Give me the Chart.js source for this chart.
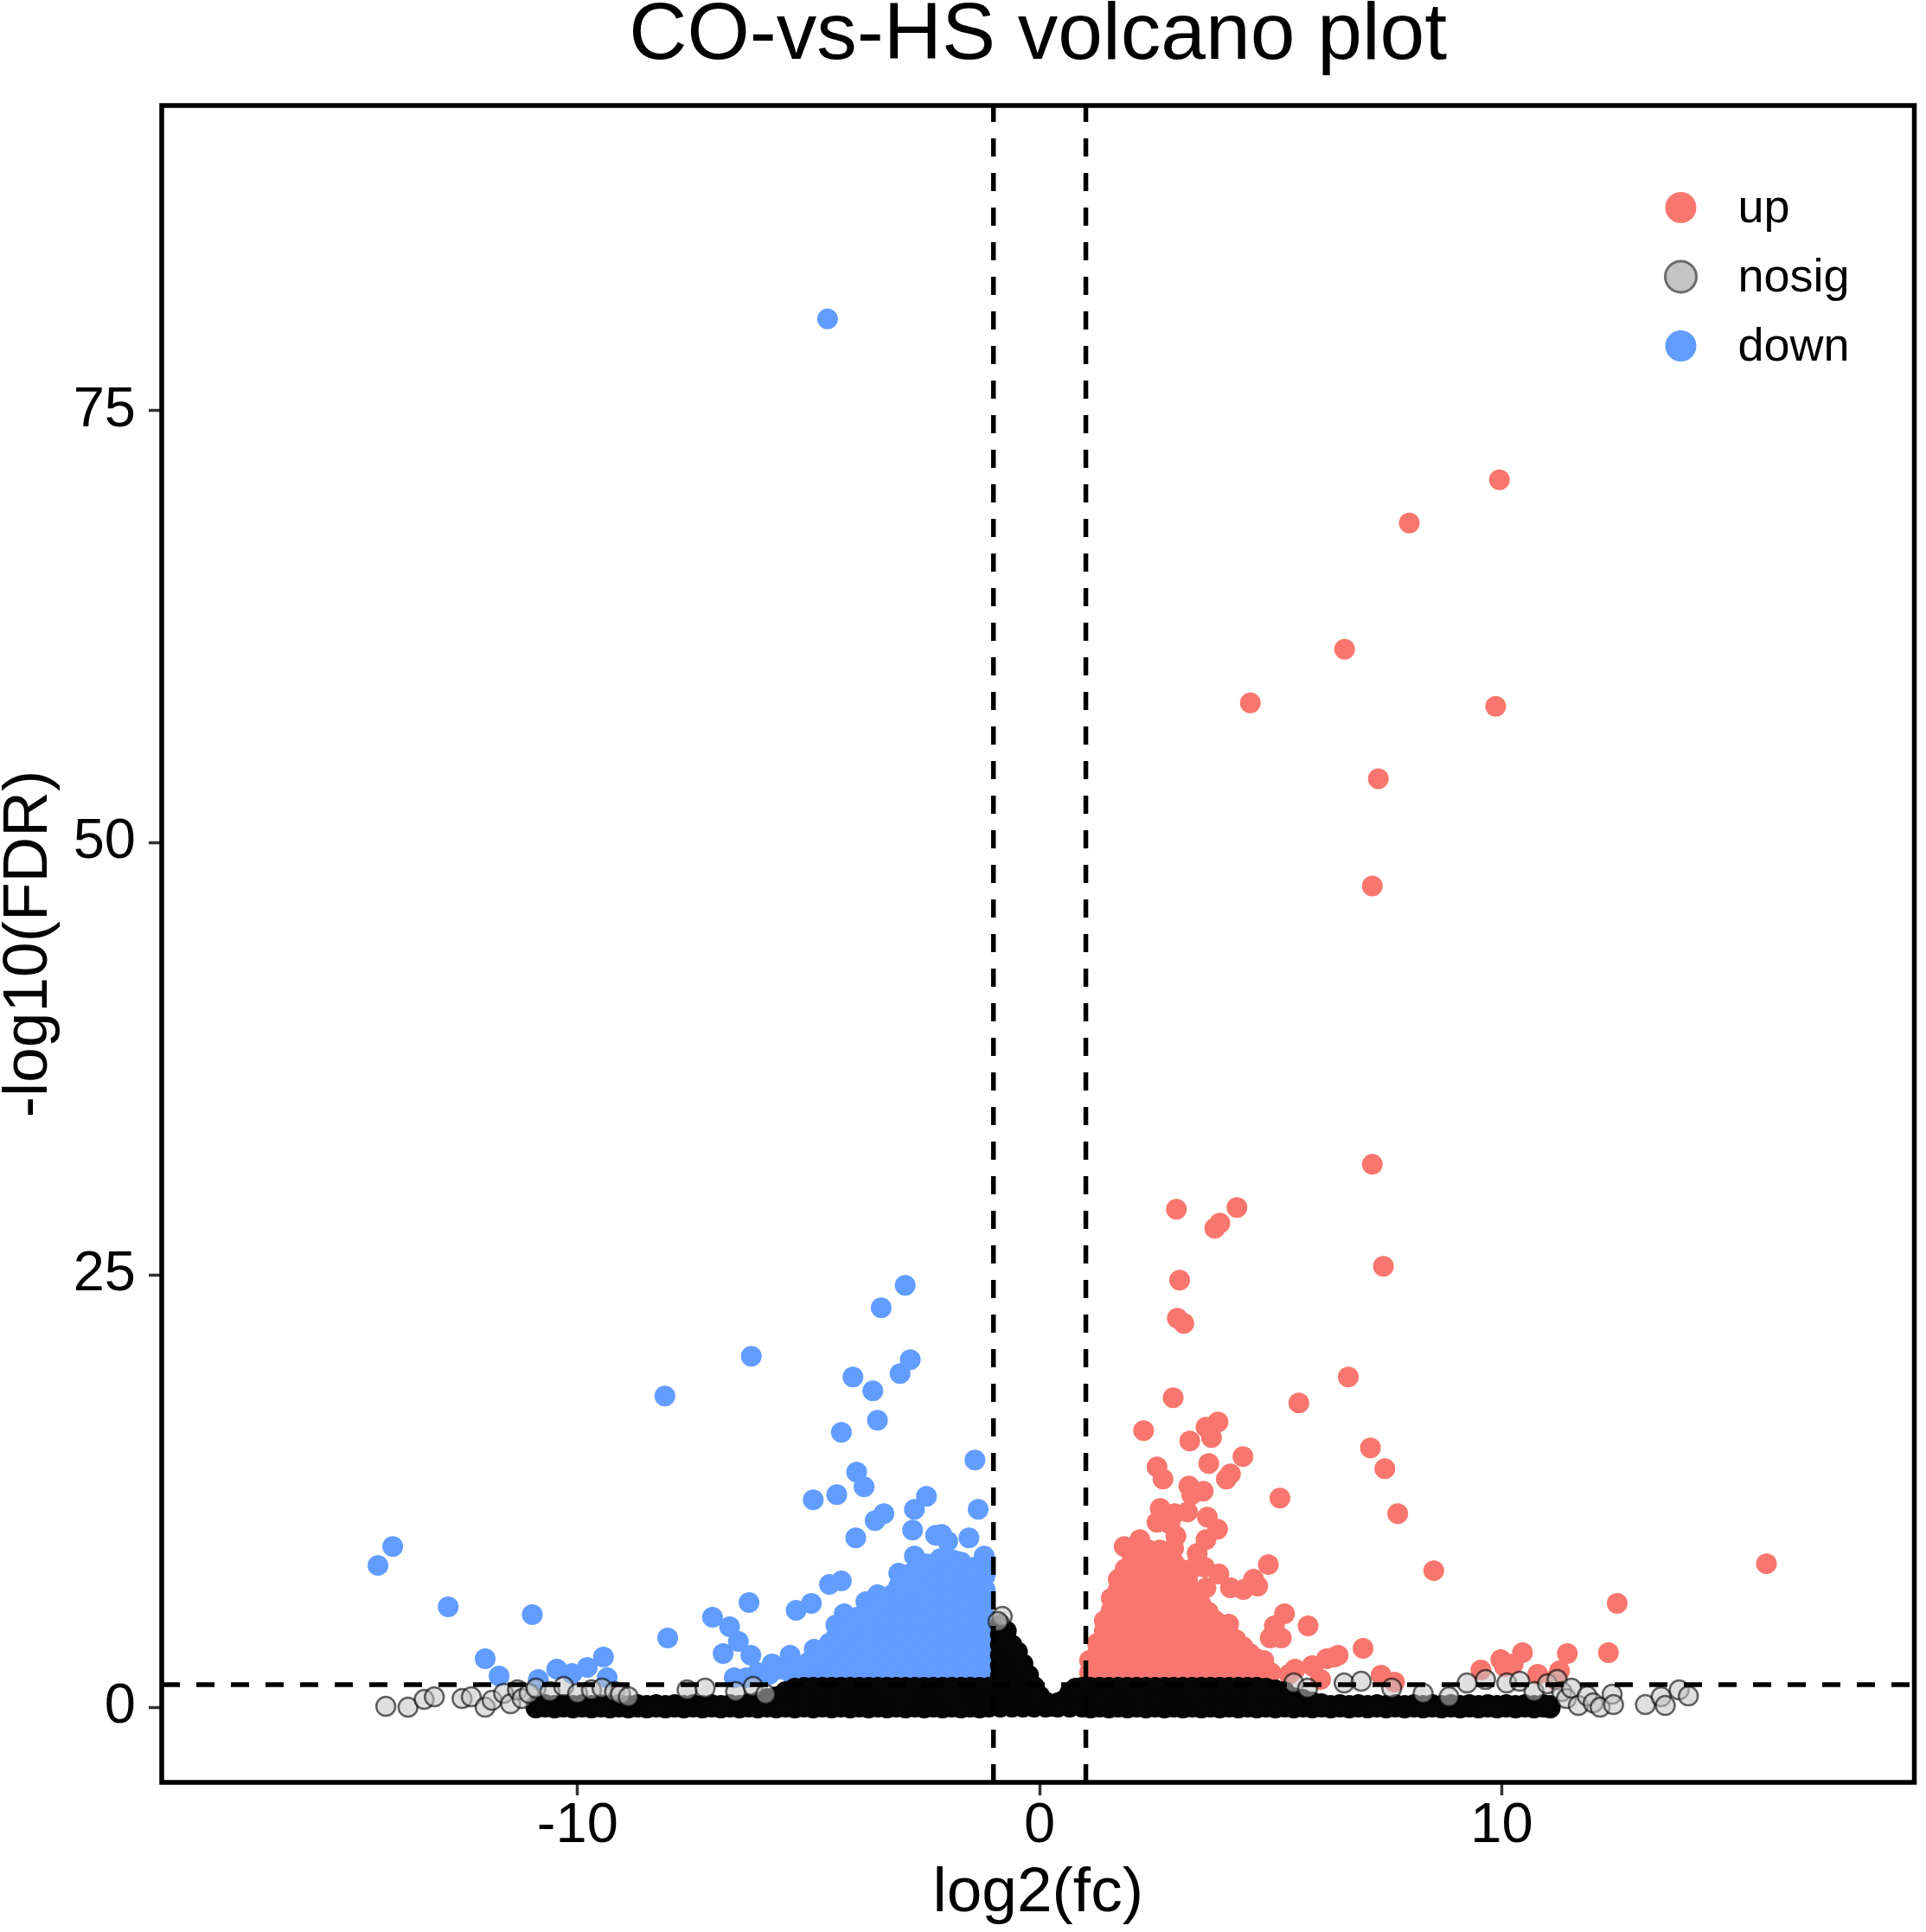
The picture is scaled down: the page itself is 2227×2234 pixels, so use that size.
<!DOCTYPE html>
<html>
<head>
<meta charset="utf-8">
<title>CO-vs-HS volcano plot</title>
<script src="https://cdn.jsdelivr.net/npm/chart.js@4.4.1/dist/chart.umd.min.js"></script>
<style>
  html, body { margin: 0; padding: 0; background: #ffffff; }
  #volcano { display: block; width: 2227px; height: 2234px; }
</style>
</head>
<body>
<canvas id="volcano" width="2227" height="2234"></canvas>
<script>
// axes
const xTicks = [-10, 0, 10];
const yTicks = [0, 25, 50, 75];
const xRange = [-19, 18.93];
const yRange = [-4.35, 92.65];
const fcCutoff = 1;
const fdrCutoff = 1.3;
const legendLabels = ['up', 'nosig', 'down'];

// up-regulated, isolated points [log2fc, -log10 fdr]
const upOutliers = [
  [9.95, 71.0], [8.0, 68.5], [6.6, 61.2], [4.56, 58.1], [9.87, 57.9], [7.33, 53.7], [7.2, 47.5], [7.2, 31.4],
  [2.96, 28.8], [4.27, 28.9], [3.79, 27.7], [3.9, 28.0], [7.44, 25.5], [3.03, 24.7], [2.98, 22.5], [3.12, 22.2],
  [6.68, 19.1], [2.89, 17.9], [5.61, 17.6], [2.25, 16.0], [3.25, 15.4], [3.6, 16.2], [3.86, 16.5], [3.72, 15.6],
  [7.16, 15.0], [3.66, 14.1], [4.4, 14.5], [7.47, 13.8], [2.54, 13.9], [2.67, 13.2], [4.04, 13.2], [4.13, 13.5],
  [3.23, 12.8], [3.54, 12.5], [3.29, 12.3], [5.2, 12.1], [7.75, 11.2], [2.61, 11.5], [2.92, 11.2], [3.2, 11.3],
  [2.54, 10.7], [2.82, 10.6], [2.95, 9.9], [3.63, 11.0], [3.85, 10.3], [3.6, 9.7], [1.83, 9.3], [2.17, 9.7],
  [2.36, 9.1], [3.41, 8.9], [3.35, 8.1], [3.57, 8.1], [4.95, 8.25], [8.53, 7.9], [15.73, 8.3], [12.5, 6.0],
  [3.88, 7.7], [4.13, 6.9], [4.41, 6.8], [4.63, 7.4], [4.72, 7.0], [3.6, 6.9],
  [5.3, 5.4], [5.08, 4.7], [4.99, 4.0], [5.23, 4.0], [5.81, 4.7], [4.09, 4.8], [3.6, 5.0],
  [7.0, 3.4], [6.46, 3.0], [6.21, 2.8], [5.53, 2.2], [5.9, 2.4], [6.08, 1.6], [7.39, 1.85], [7.68, 1.45],
  [5.4, 1.9], [5.92, 2.35], [6.38, 2.9],
  [9.55, 2.15], [9.98, 2.75], [10.45, 3.15], [11.42, 3.1], [12.31, 3.15], [10.06, 2.35], [10.78, 1.9],
  [11.15, 1.6], [11.25, 2.1], [10.25, 2.5]
];

// up-regulated, dense mass: [log2fc, [-log10 fdr ...]]
const upCluster = [
  [1.08, [2.0, 2.7]],
  [1.25, [2.3, 3.1, 3.7]],
  [1.4, [2.0, 2.8, 3.6, 4.4, 5.0]],
  [1.55, [2.4, 3.2, 4.0, 4.8, 5.6, 6.3]],
  [1.7, [2.0, 2.8, 3.6, 4.4, 5.2, 6.0, 6.8, 7.4]],
  [1.85, [2.4, 3.2, 4.0, 4.8, 5.6, 6.4, 7.2, 8.0]],
  [2.0, [2.0, 2.8, 3.6, 4.4, 5.2, 6.0, 6.8, 7.6, 8.5]],
  [2.15, [2.4, 3.2, 4.0, 4.8, 5.6, 6.4, 7.2, 8.0, 8.8]],
  [2.3, [2.0, 2.8, 3.6, 4.4, 5.2, 6.0, 6.8, 7.6, 8.4]],
  [2.45, [2.4, 3.2, 4.0, 4.8, 5.6, 6.4, 7.2, 8.0, 8.9]],
  [2.6, [2.0, 2.8, 3.6, 4.4, 5.2, 6.0, 6.8, 7.6, 8.4, 9.1]],
  [2.75, [2.4, 3.2, 4.0, 4.8, 5.6, 6.4, 7.2, 8.0, 8.8]],
  [2.9, [2.0, 2.8, 3.6, 4.4, 5.2, 6.0, 6.8, 7.6, 8.4, 9.2]],
  [3.05, [2.4, 3.2, 4.0, 4.8, 5.6, 6.4, 7.2, 8.0]],
  [3.2, [2.0, 2.8, 3.6, 4.4, 5.2, 6.0, 6.9, 7.4]],
  [3.35, [2.4, 3.2, 4.0, 4.8, 5.6, 6.4]],
  [3.5, [2.0, 2.8, 3.6, 4.4, 5.2, 5.9]],
  [3.65, [2.4, 3.2, 4.0, 4.8, 5.5]],
  [3.8, [2.0, 2.8, 3.6, 4.4, 5.0]],
  [3.95, [2.4, 3.2, 4.0, 4.6]],
  [4.1, [2.0, 2.8, 3.6, 4.2]],
  [4.25, [2.4, 3.2, 3.9]],
  [4.4, [2.0, 2.8, 3.5]],
  [4.55, [2.4, 3.1]],
  [4.7, [2.0, 2.8]],
  [4.85, [2.3, 2.7]],
  [5.0, [2.0]]
];

// down-regulated, isolated points
const downOutliers = [
  [-4.59, 80.3],
  [-2.91, 24.4], [-3.43, 23.1], [-6.24, 20.3], [-2.8, 20.1], [-3.02, 19.3], [-4.04, 19.1], [-3.61, 18.3],
  [-8.11, 18.0], [-3.51, 16.6], [-4.29, 15.9], [-1.4, 14.3], [-3.96, 13.6], [-3.8, 12.75], [-4.9, 12.0],
  [-4.39, 12.3], [-1.33, 11.45], [-3.37, 11.2], [-3.56, 10.8], [-2.45, 12.2], [-2.71, 11.45], [-3.98, 9.8],
  [-2.75, 10.25], [-2.25, 9.95], [-2.12, 10.0], [-1.99, 9.6], [-1.53, 9.8], [-1.2, 8.75],
  [-14.0, 9.3], [-14.32, 8.2], [-4.55, 7.1], [-4.29, 7.3], [-12.8, 5.8], [-5.27, 5.6], [-4.94, 6.0],
  [-6.29, 6.05], [-7.08, 5.2], [-10.98, 5.35], [-6.71, 4.65], [-6.52, 3.8], [-8.05, 4.0], [-6.85, 3.1],
  [-6.25, 3.0], [-4.88, 3.35], [-5.4, 3.0], [-5.79, 2.5], [-5.07, 2.2], [-12.0, 2.8], [-11.7, 1.8],
  [-10.45, 2.2], [-10.12, 1.95], [-9.79, 2.3], [-9.44, 2.9], [-9.36, 1.7], [-10.85, 1.6], [-6.61, 1.7],
  [-3.05, 7.75], [-3.76, 6.1], [-3.51, 6.5], [-4.23, 5.4], [-4.41, 4.75], [-3.55, 4.75], [-2.71, 8.75]
];

// down-regulated, dense mass
const downCluster = [
  [-1.18, [2.0, 2.8, 3.6, 4.4, 5.2, 6.0, 6.8, 7.6, 8.3]],
  [-1.3, [2.4, 3.2, 4.0, 4.8, 5.6, 6.4, 7.2, 7.9]],
  [-1.42, [2.0, 2.8, 3.6, 4.4, 5.2, 6.0, 6.8, 7.6, 8.1]],
  [-1.55, [2.4, 3.2, 4.0, 4.8, 5.6, 6.4, 7.2, 8.0]],
  [-1.7, [2.0, 2.8, 3.6, 4.4, 5.2, 6.0, 6.8, 7.6, 8.4]],
  [-1.85, [2.4, 3.2, 4.0, 4.8, 5.6, 6.4, 7.2, 8.0, 8.5]],
  [-2.0, [2.0, 2.8, 3.6, 4.4, 5.2, 6.0, 6.8, 7.6, 8.4]],
  [-2.15, [2.4, 3.2, 4.0, 4.8, 5.6, 6.4, 7.2, 8.0, 8.6]],
  [-2.3, [2.0, 2.8, 3.6, 4.4, 5.2, 6.0, 6.8, 7.6, 8.3]],
  [-2.45, [2.4, 3.2, 4.0, 4.8, 5.6, 6.4, 7.2, 8.0, 8.3]],
  [-2.6, [2.0, 2.8, 3.6, 4.4, 5.2, 6.0, 6.8, 7.6, 8.2]],
  [-2.75, [2.4, 3.2, 4.0, 4.8, 5.6, 6.4, 7.2, 7.8]],
  [-2.9, [2.0, 2.8, 3.6, 4.4, 5.2, 6.0, 6.8, 7.4]],
  [-3.05, [2.4, 3.2, 4.0, 4.8, 5.6, 6.4, 7.0]],
  [-3.2, [2.0, 2.8, 3.6, 4.4, 5.2, 6.0, 6.5]],
  [-3.35, [2.4, 3.2, 4.0, 4.8, 5.6, 6.1]],
  [-3.5, [2.0, 2.8, 3.6, 4.4, 5.2, 5.9]],
  [-3.65, [2.4, 3.2, 4.0, 4.8, 5.6]],
  [-3.8, [2.0, 2.8, 3.6, 4.4, 5.3]],
  [-3.95, [2.4, 3.2, 4.0, 4.8, 5.2]],
  [-4.1, [2.0, 2.8, 3.6, 4.4, 4.8]],
  [-4.25, [2.4, 3.2, 4.0, 4.4]],
  [-4.4, [2.0, 2.8, 3.6, 4.1]],
  [-4.55, [2.4, 3.2, 3.7]],
  [-4.7, [2.0, 2.8, 3.3]],
  [-4.85, [2.4, 2.9]],
  [-5.0, [2.0, 2.6]],
  [-5.2, [2.3]],
  [-5.4, [2.0]],
  [-5.6, [2.2]],
  [-5.85, [1.9]],
  [-6.1, [2.0]],
  [-6.35, [1.7]]
];

// not significant, the packed band along the bottom
const nosigBand = [
  [-10.9, [-0.05, 0.1]], [-10.7, [0.0, 0.15]], [-10.5, [-0.05, 0.1]], [-10.3, [0.0, 0.15]],
  [-10.1, [-0.05, 0.1]], [-9.9, [0.0, 0.15]], [-9.7, [-0.05, 0.1]], [-9.5, [0.0, 0.15]],
  [-9.3, [-0.05, 0.1]], [-9.1, [0.0, 0.15]], [-8.9, [-0.05, 0.1]], [-8.7, [0.0, 0.15]],
  [-8.5, [-0.05, 0.1]], [-8.3, [0.0, 0.15]], [-8.1, [-0.05, 0.1]], [-7.9, [0.0, 0.15]],
  [-7.7, [-0.05, 0.1]], [-7.5, [0.0, 0.15]], [-7.3, [-0.05, 0.1]], [-7.1, [0.0, 0.15]],
  [-6.9, [-0.05, 0.1]], [-6.7, [0.0, 0.15]], [-6.5, [-0.05, 0.1]], [-6.3, [0.0, 0.2]],
  [-6.1, [-0.05, 0.3]], [-5.9, [0.0, 0.5]], [-5.7, [-0.05, 0.6]], [-5.5, [0.0, 0.6, 0.9]],
  [-5.3, [-0.05, 0.6, 1.1]],
  [-5.1, [0.0, 0.6, 1.15]], [-4.9, [-0.05, 0.55, 1.15]], [-4.7, [0.0, 0.6, 1.15]], [-4.5, [-0.05, 0.55, 1.15]],
  [-4.3, [0.0, 0.6, 1.15]], [-4.1, [-0.05, 0.55, 1.15]], [-3.9, [0.0, 0.6, 1.15]], [-3.7, [-0.05, 0.55, 1.15]],
  [-3.5, [0.0, 0.6, 1.15]], [-3.3, [-0.05, 0.55, 1.15]], [-3.1, [0.0, 0.6, 1.15]], [-2.9, [-0.05, 0.55, 1.15]],
  [-2.7, [0.0, 0.6, 1.15]], [-2.5, [-0.05, 0.55, 1.15]], [-2.3, [0.0, 0.6, 1.15]], [-2.1, [-0.05, 0.55, 1.15]],
  [-1.9, [0.0, 0.6, 1.15]], [-1.7, [-0.05, 0.55, 1.15]], [-1.5, [0.0, 0.6, 1.15]], [-1.3, [-0.05, 0.55, 1.15]],
  [-1.1, [0.0, 0.6, 1.15]],
  [-0.85, [0.0, 0.6, 1.2, 1.8, 2.4, 3.0, 3.6, 4.2, 4.8]],
  [-0.72, [0.3, 0.9, 1.5, 2.1, 2.7, 3.3, 3.9, 4.4]],
  [-0.6, [0.0, 0.6, 1.2, 1.8, 2.4, 3.0, 3.6]],
  [-0.48, [0.3, 0.9, 1.5, 2.1, 2.7, 3.2]],
  [-0.36, [0.0, 0.6, 1.2, 1.8, 2.5]],
  [-0.24, [0.3, 0.9, 1.5, 1.85]],
  [-0.12, [0.0, 0.6, 1.2]],
  [0.0, [0.3, 0.65]], [0.13, [0.0, 0.3]], [0.26, [0.05]], [0.39, [0.0, 0.25]], [0.52, [0.1, 0.4]],
  [0.65, [0.0, 0.6, 0.8]], [0.78, [0.3, 0.9, 1.1]], [0.92, [0.0, 0.6, 1.15]],
  [1.1, [-0.05, 0.55, 1.15]], [1.3, [0.0, 0.6, 1.15]], [1.5, [-0.05, 0.55, 1.15]], [1.7, [0.0, 0.6, 1.15]],
  [1.9, [-0.05, 0.55, 1.15]], [2.1, [0.0, 0.6, 1.15]], [2.3, [-0.05, 0.55, 1.15]], [2.5, [0.0, 0.6, 1.15]],
  [2.7, [-0.05, 0.55, 1.15]], [2.9, [0.0, 0.6, 1.15]], [3.1, [-0.05, 0.55, 1.15]], [3.3, [0.0, 0.6, 1.15]],
  [3.5, [-0.05, 0.55, 1.15]], [3.7, [0.0, 0.6, 1.15]], [3.9, [-0.05, 0.55, 1.15]], [4.1, [0.0, 0.6, 1.15]],
  [4.3, [-0.05, 0.55, 1.15]], [4.5, [0.0, 0.6, 1.15]], [4.7, [-0.05, 0.55, 1.15]], [4.9, [0.0, 0.6, 1.1]],
  [5.1, [-0.05, 0.55, 1.0]], [5.3, [0.0, 0.6, 0.9]], [5.5, [-0.05, 0.55]], [5.7, [0.0, 0.45]],
  [5.9, [-0.05, 0.3]], [6.1, [0.0, 0.2]], [6.3, [-0.05, 0.1]], [6.5, [0.0, 0.15]],
  [6.7, [-0.05, 0.1]], [6.9, [0.0, 0.15]], [7.1, [-0.05, 0.1]], [7.3, [0.0, 0.15]],
  [7.5, [-0.05, 0.1]], [7.7, [0.0, 0.15]], [7.9, [-0.05, 0.1]], [8.1, [0.0, 0.15]],
  [8.3, [-0.05, 0.1]], [8.5, [0.0, 0.15]], [8.7, [-0.05, 0.1]], [8.9, [0.0, 0.15]],
  [9.1, [-0.05, 0.1]], [9.3, [0.0, 0.15]], [9.5, [-0.05, 0.1]], [9.7, [0.0, 0.15]],
  [9.9, [-0.05, 0.1]], [10.1, [0.0, 0.15]], [10.3, [-0.05, 0.1]], [10.5, [0.0, 0.15]],
  [10.7, [-0.05, 0.1]], [10.9, [0.0, 0.15]], [11.05, [-0.05, 0.1]]
];

// not significant, loose points at the edges of the band
const nosigLoose = [
  [-14.15, 0.05], [-13.67, 0.0], [-13.32, 0.45], [-13.1, 0.6], [-12.5, 0.5], [-12.3, 0.6], [-12.0, 0.0],
  [-11.85, 0.4], [-11.6, 0.8], [-11.45, 0.2], [-11.3, 1.0], [-11.2, 0.5], [-11.05, 0.8], [-10.9, 1.1],
  [-10.6, 0.9], [-10.3, 1.2], [-10.0, 0.8], [-9.7, 1.0], [-9.47, 1.1], [-9.2, 0.9], [-9.07, 0.75],
  [-8.9, 0.6], [-7.63, 1.0], [-7.24, 1.1], [-6.58, 0.9], [-6.2, 1.2], [-5.93, 0.75],
  [-0.81, 5.25], [-0.9, 4.95],
  [5.5, 1.4], [5.8, 1.1], [6.59, 1.4], [6.96, 1.5], [7.62, 1.1], [8.3, 0.8], [8.86, 0.6], [9.25, 1.4],
  [9.65, 1.6], [10.11, 1.4], [10.39, 1.5], [10.7, 0.9], [10.99, 1.35], [11.2, 1.6], [11.3, 0.9],
  [11.4, 0.5], [11.51, 1.1], [11.66, 0.1], [11.85, 0.65], [11.98, 0.25], [12.13, 0.0], [12.39, 0.75],
  [12.42, 0.15], [13.11, 0.15], [13.45, 0.6], [13.54, 0.1], [13.84, 1.0], [14.04, 0.65]
];

const groupColors = { up: '#F8766D', nosig: '#C4C4C4', down: '#619CFF' };
const fontFamily = "'Liberation Sans', Arial, Helvetica, sans-serif";

function pairsToPoints(pairs) {
  return pairs.map(([x, y]) => ({ x, y }));
}

function columnsToPoints(columns) {
  return columns.flatMap(([x, ys]) => ys.map((y) => ({ x, y })));
}

function cutoffLine(points) {
  return {
    data: points,
    showLine: true,
    borderColor: '#000000',
    borderWidth: 5.5,
    borderDash: [21, 19],
    pointRadius: 0,
    fill: false,
    order: 0,
  };
}

const panelBorder = {
  id: 'panelBorder',
  afterDraw(chart) {
    const { ctx, chartArea } = chart;
    ctx.save();
    ctx.strokeStyle = '#000000';
    ctx.lineWidth = 5.5;
    ctx.strokeRect(chartArea.left, chartArea.top, chartArea.right - chartArea.left, chartArea.bottom - chartArea.top);
    ctx.restore();
  },
};

// ggplot-like legend sitting inside the panel, top right
const groupLegend = {
  id: 'groupLegend',
  afterDraw(chart) {
    const { ctx, chartArea } = chart;
    const markerX = chartArea.right - 270;
    ctx.save();
    ctx.font = `54px ${fontFamily}`;
    ctx.textAlign = 'left';
    ctx.textBaseline = 'alphabetic';
    legendLabels.forEach((label, i) => {
      const y = chartArea.top + 118 + i * 80;
      ctx.beginPath();
      ctx.arc(markerX, y, 18, 0, Math.PI * 2);
      ctx.fillStyle = groupColors[label];
      ctx.fill();
      if (label === 'nosig') {
        ctx.lineWidth = 3;
        ctx.strokeStyle = '#6a6a6a';
        ctx.stroke();
      }
      ctx.fillStyle = '#000000';
      ctx.fillText(label, markerX + 66, y + 17);
    });
    ctx.restore();
  },
};

function renderVolcano() {
  const ctx = document.getElementById('volcano').getContext('2d');
  const tickFont = { family: fontFamily, size: 65, lineHeight: 1.0 };
  const axisTitleFont = { family: fontFamily, size: 73, lineHeight: 0.9 };

  return new Chart(ctx, {
    type: 'scatter',
    data: {
      datasets: [
        cutoffLine([{ x: -fcCutoff, y: yRange[0] }, { x: -fcCutoff, y: yRange[1] }]),
        cutoffLine([{ x: fcCutoff, y: yRange[0] }, { x: fcCutoff, y: yRange[1] }]),
        cutoffLine([{ x: xRange[0], y: fdrCutoff }, { x: xRange[1], y: fdrCutoff }]),
        {
          label: 'nosig',
          data: pairsToPoints(nosigLoose),
          backgroundColor: 'rgba(196,196,196,0.55)',
          borderColor: 'rgba(0,0,0,0.6)',
          borderWidth: 2.5,
          pointRadius: 11,
          order: 1,
        },
        {
          label: 'nosig',
          data: columnsToPoints(nosigBand),
          backgroundColor: '#050505',
          borderWidth: 0,
          pointRadius: 12,
          order: 2,
        },
        {
          label: 'up',
          data: [...pairsToPoints(upOutliers), ...columnsToPoints(upCluster)],
          backgroundColor: groupColors.up,
          borderWidth: 0,
          pointRadius: 12,
          order: 3,
        },
        {
          label: 'down',
          data: [...pairsToPoints(downOutliers), ...columnsToPoints(downCluster)],
          backgroundColor: groupColors.down,
          borderWidth: 0,
          pointRadius: 12,
          order: 4,
        },
      ],
    },
    options: {
      responsive: false,
      animation: false,
      devicePixelRatio: 1,
      events: [],
      layout: { padding: { left: 0, right: 11, top: 0, bottom: 0 } },
      plugins: {
        legend: { display: false },
        tooltip: { enabled: false },
        title: {
          display: true,
          text: 'CO-vs-HS volcano plot',
          fullSize: false,
          color: '#000000',
          font: { family: fontFamily, size: 93, weight: 'normal', lineHeight: 0.9 },
          padding: { top: 1, bottom: 37.3 },
        },
      },
      scales: {
        x: {
          type: 'linear',
          position: 'bottom',
          min: xRange[0],
          max: xRange[1],
          afterFit: (scale) => { scale.height = 173; },
          afterBuildTicks: (scale) => { scale.ticks = xTicks.map((value) => ({ value })); },
          border: { display: false },
          grid: { drawOnChartArea: false, drawTicks: true, tickLength: 15, tickWidth: 3.5, tickColor: '#333333' },
          ticks: { color: '#000000', font: tickFont, padding: 4, maxRotation: 0, autoSkip: false },
          title: { display: true, text: 'log2(fc)', color: '#000000', font: axisTitleFont, padding: { top: 0, bottom: 11 } },
        },
        y: {
          type: 'linear',
          position: 'left',
          min: yRange[0],
          max: yRange[1],
          afterFit: (scale) => { scale.width = 187; },
          afterBuildTicks: (scale) => { scale.ticks = yTicks.map((value) => ({ value })); },
          border: { display: false },
          grid: { drawOnChartArea: false, drawTicks: true, tickLength: 15, tickWidth: 3.5, tickColor: '#333333' },
          ticks: { color: '#000000', font: tickFont, padding: 15, autoSkip: false },
          title: { display: true, text: '-log10(FDR)', color: '#000000', font: axisTitleFont, padding: { top: 1, bottom: 0 } },
        },
      },
    },
    plugins: [panelBorder, groupLegend],
  });
}

renderVolcano();
</script>
</body>
</html>
